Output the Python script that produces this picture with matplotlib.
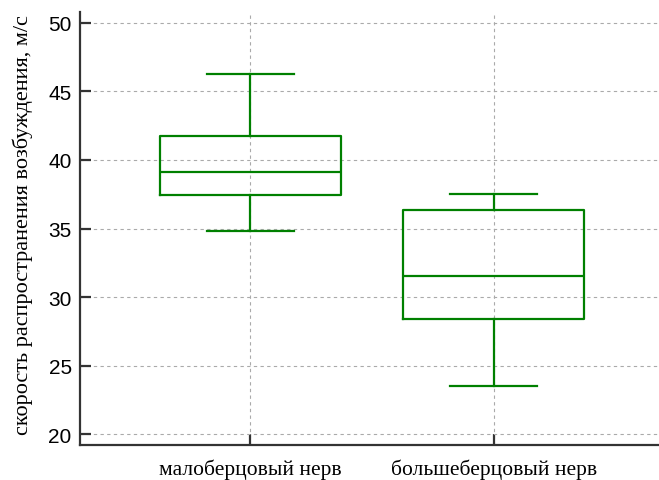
import matplotlib
matplotlib.use('Agg')
import matplotlib.pyplot as plt

# Box statistics (m/s)
names = ['малоберцовый нерв', 'большеберцовый нерв']
whislo = [34.8, 23.5]
q1 = [37.45, 28.4]
med = [39.1, 31.5]
q3 = [41.75, 36.35]
whishi = [46.25, 37.5]

stats = []
for i in range(len(names)):
    stats.append({'label': names[i], 'whislo': whislo[i], 'q1': q1[i],
                  'med': med[i], 'q3': q3[i], 'whishi': whishi[i], 'fliers': []})

fig = plt.figure(figsize=(6.59, 4.81), dpi=100)
ax = fig.add_axes([80 / 659, 35 / 481, 579 / 659, 433 / 481])

green = '#008000'
lw = 1.6
ax.bxp(stats, positions=[1, 2], widths=0.745, showfliers=False,
       boxprops=dict(color=green, linewidth=lw),
       medianprops=dict(color=green, linewidth=lw),
       whiskerprops=dict(color=green, linewidth=lw),
       capprops=dict(color=green, linewidth=lw),
       capwidths=0.36)

ax.set_xlim(0.30, 2.68)
ax.set_ylim(19.2, 50.8)
ax.set_yticks([20, 25, 30, 35, 40, 45, 50])

ax.grid(True, linestyle=(0, (3, 3)), color='#aaaaaa', linewidth=0.8)
ax.set_axisbelow(True)

for s in ['top', 'right']:
    ax.spines[s].set_visible(False)
for s in ['left', 'bottom']:
    ax.spines[s].set_color('#333333')
    ax.spines[s].set_linewidth(1.6)

ax.tick_params(axis='y', direction='in', length=8, width=1.6, color='#333333',
               labelsize=15, pad=6)
ax.tick_params(axis='x', direction='in', length=8, width=1.6, color='#333333',
               labelsize=15.5, pad=10)
for t in ax.get_yticklabels():
    t.set_fontfamily('Liberation Sans')
for t in ax.get_xticklabels():
    t.set_fontfamily('Liberation Serif')

ax.set_ylabel('скорость распространения возбуждения, м/с',
              family='Liberation Serif', fontsize=16)
ax.yaxis.set_label_coords(-0.081, 0.51)

fig.savefig('out.png', dpi=100)
